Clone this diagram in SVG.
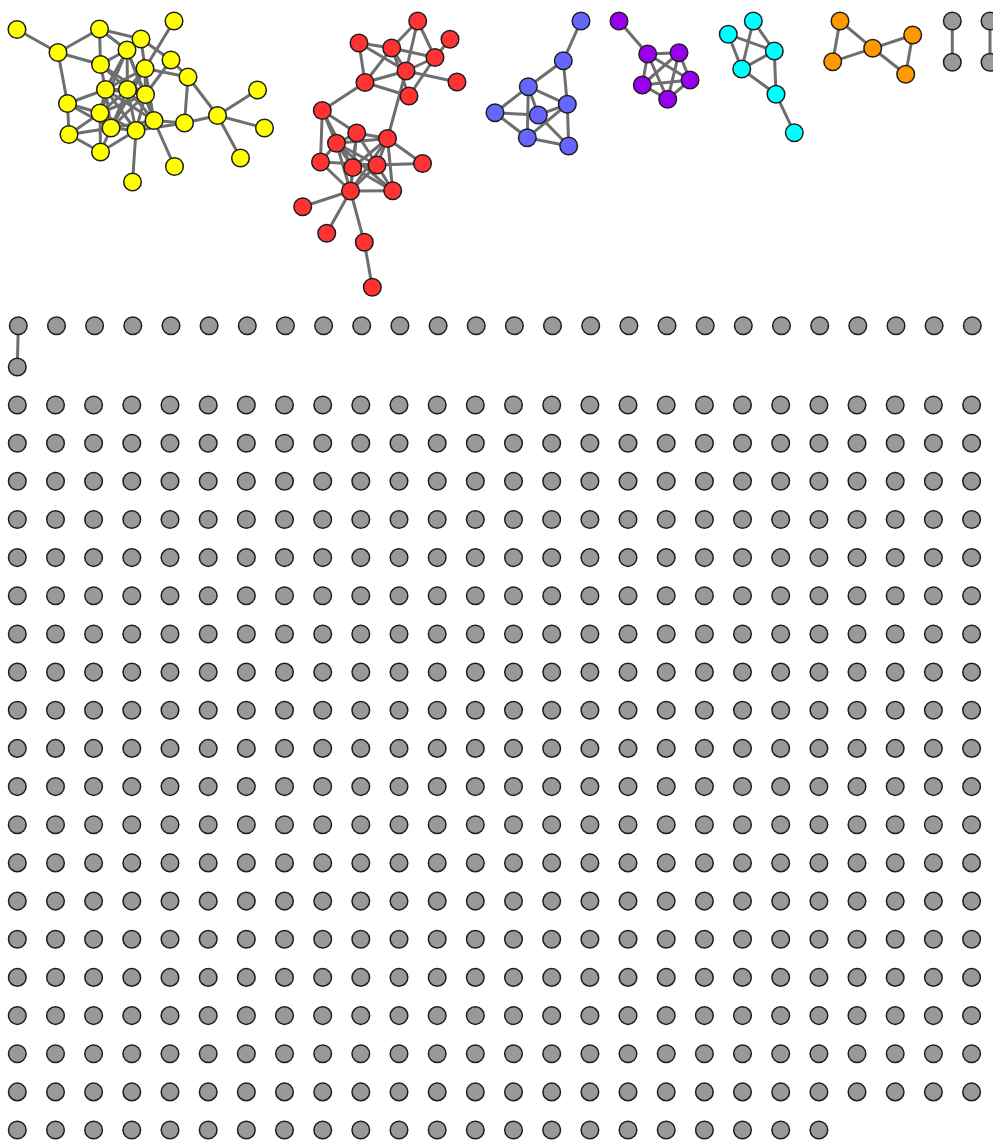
<svg xmlns="http://www.w3.org/2000/svg" width="993" height="1140" viewBox="0 0 993 1140">
<style>
.e line{stroke:#6e6e6e;stroke-width:3;stroke-linecap:round}
circle{stroke:#1e1e1e;stroke-width:1.5}
.y circle{fill:#ffff00}.r circle{fill:#ff3333}.b circle{fill:#6666ff}.p circle{fill:#9900ee}.c circle{fill:#00ffff}.o circle{fill:#ff9900}.g circle{fill:#999999}
</style>
<rect width="993" height="1140" fill="#fff"/>
<g id="connectors" class="e">
<!-- yellow -->
<line x1="17" y1="29.5" x2="58" y2="52.5"/><line x1="58" y1="52.5" x2="99.5" y2="29"/><line x1="58" y1="52.5" x2="100.5" y2="64.5"/><line x1="58" y1="52.5" x2="67.5" y2="103.5"/>
<line x1="99.5" y1="29" x2="100.5" y2="64.5"/><line x1="99.5" y1="29" x2="141" y2="39"/><line x1="99.5" y1="29" x2="127" y2="50"/>
<line x1="141" y1="39" x2="145" y2="68.5"/><line x1="141" y1="39" x2="171" y2="60"/><line x1="171" y1="60" x2="188" y2="77"/>
<line x1="127" y1="50" x2="100.5" y2="64.5"/><line x1="127" y1="50" x2="105.5" y2="89.5"/><line x1="127" y1="50" x2="127.5" y2="89.5"/><line x1="127" y1="50" x2="145.5" y2="94.5"/><line x1="127" y1="50" x2="100" y2="113"/><line x1="127" y1="50" x2="154" y2="120.5"/>
<line x1="174" y1="21" x2="145" y2="68.5"/>
<line x1="100.5" y1="64.5" x2="105.5" y2="89.5"/><line x1="100.5" y1="64.5" x2="127.5" y2="89.5"/><line x1="100.5" y1="64.5" x2="145.5" y2="94.5"/>
<line x1="145" y1="68.5" x2="105.5" y2="89.5"/><line x1="145" y1="68.5" x2="127.5" y2="89.5"/><line x1="145" y1="68.5" x2="145.5" y2="94.5"/><line x1="145" y1="68.5" x2="154" y2="120.5"/><line x1="145" y1="68.5" x2="111" y2="128"/><line x1="145" y1="68.5" x2="188" y2="77"/>
<line x1="171" y1="60" x2="145.5" y2="94.5"/>
<line x1="188" y1="77" x2="217.5" y2="115.5"/><line x1="188" y1="77" x2="184.5" y2="123"/>
<line x1="105.5" y1="89.5" x2="127.5" y2="89.5"/><line x1="105.5" y1="89.5" x2="145.5" y2="94.5"/><line x1="105.5" y1="89.5" x2="67.5" y2="103.5"/><line x1="105.5" y1="89.5" x2="100" y2="113"/><line x1="105.5" y1="89.5" x2="111" y2="128"/><line x1="105.5" y1="89.5" x2="136" y2="130.5"/><line x1="105.5" y1="89.5" x2="154" y2="120.5"/>
<line x1="127.5" y1="89.5" x2="145.5" y2="94.5"/><line x1="127.5" y1="89.5" x2="100" y2="113"/><line x1="127.5" y1="89.5" x2="111" y2="128"/><line x1="127.5" y1="89.5" x2="136" y2="130.5"/><line x1="127.5" y1="89.5" x2="154" y2="120.5"/>
<line x1="145.5" y1="94.5" x2="100" y2="113"/><line x1="145.5" y1="94.5" x2="154" y2="120.5"/><line x1="145.5" y1="94.5" x2="111" y2="128"/><line x1="145.5" y1="94.5" x2="136" y2="130.5"/>
<line x1="67.5" y1="103.5" x2="100" y2="113"/><line x1="67.5" y1="103.5" x2="69" y2="134.5"/><line x1="67.5" y1="103.5" x2="111" y2="128"/>
<line x1="100" y1="113" x2="111" y2="128"/><line x1="100" y1="113" x2="136" y2="130.5"/><line x1="100" y1="113" x2="69" y2="134.5"/><line x1="100" y1="113" x2="100.5" y2="152"/>
<line x1="154" y1="120.5" x2="111" y2="128"/><line x1="154" y1="120.5" x2="136" y2="130.5"/><line x1="154" y1="120.5" x2="184.5" y2="123"/><line x1="154" y1="120.5" x2="174.5" y2="166.5"/>
<line x1="111" y1="128" x2="136" y2="130.5"/><line x1="111" y1="128" x2="69" y2="134.5"/><line x1="111" y1="128" x2="100.5" y2="152"/>
<line x1="136" y1="130.5" x2="100.5" y2="152"/><line x1="136" y1="130.5" x2="132.5" y2="182"/><line x1="136" y1="130.5" x2="184.5" y2="123"/>
<line x1="69" y1="134.5" x2="100.5" y2="152"/>
<line x1="217.5" y1="115.5" x2="184.5" y2="123"/><line x1="217.5" y1="115.5" x2="257.5" y2="90"/><line x1="217.5" y1="115.5" x2="264.5" y2="128"/><line x1="217.5" y1="115.5" x2="240.5" y2="158"/>
<!-- red -->
<line x1="359" y1="43" x2="391.7" y2="48"/><line x1="359" y1="43" x2="365" y2="82.5"/><line x1="359" y1="43" x2="406" y2="71"/>
<line x1="391.7" y1="48" x2="417.7" y2="21"/><line x1="391.7" y1="48" x2="435" y2="57.5"/><line x1="391.7" y1="48" x2="406" y2="71"/><line x1="391.7" y1="48" x2="409" y2="96"/>
<line x1="417.7" y1="21" x2="406" y2="71"/><line x1="417.7" y1="21" x2="435" y2="57.5"/>
<line x1="365" y1="82.5" x2="391.7" y2="48"/><line x1="365" y1="82.5" x2="406" y2="71"/><line x1="365" y1="82.5" x2="409" y2="96"/>
<line x1="406" y1="71" x2="457" y2="82"/><line x1="450" y1="39.3" x2="435" y2="57.5"/><line x1="435" y1="57.5" x2="406" y2="71"/><line x1="435" y1="57.5" x2="409" y2="96"/><line x1="406" y1="71" x2="387.5" y2="138.5"/>
<line x1="365" y1="82.5" x2="322.3" y2="110.5"/>
<line x1="322.3" y1="110.5" x2="320.5" y2="162"/><line x1="322.3" y1="110.5" x2="356.7" y2="133"/><line x1="322.3" y1="110.5" x2="336.5" y2="143.3"/><line x1="322.3" y1="110.5" x2="352.7" y2="167.5"/>
<line x1="356.7" y1="133" x2="336.5" y2="143.3"/><line x1="356.7" y1="133" x2="387.5" y2="138.5"/><line x1="356.7" y1="133" x2="352.7" y2="167.5"/><line x1="356.7" y1="133" x2="377" y2="165"/><line x1="356.7" y1="133" x2="350.5" y2="191"/>
<line x1="336.5" y1="143.3" x2="387.5" y2="138.5"/><line x1="336.5" y1="143.3" x2="320.5" y2="162"/><line x1="336.5" y1="143.3" x2="352.7" y2="167.5"/><line x1="336.5" y1="143.3" x2="350.5" y2="191"/><line x1="336.5" y1="143.3" x2="392.7" y2="190.7"/><line x1="336.5" y1="143.3" x2="377" y2="165"/>
<line x1="387.5" y1="138.5" x2="422.5" y2="163.5"/><line x1="387.5" y1="138.5" x2="377" y2="165"/><line x1="387.5" y1="138.5" x2="392.7" y2="190.7"/><line x1="387.5" y1="138.5" x2="352.7" y2="167.5"/><line x1="387.5" y1="138.5" x2="350.5" y2="191"/>
<line x1="320.5" y1="162" x2="377" y2="165"/><line x1="320.5" y1="162" x2="350.5" y2="191"/>
<line x1="377" y1="165" x2="422.5" y2="163.5"/><line x1="377" y1="165" x2="350.5" y2="191"/><line x1="377" y1="165" x2="392.7" y2="190.7"/><line x1="352.7" y1="167.5" x2="350.5" y2="191"/><line x1="352.7" y1="167.5" x2="392.7" y2="190.7"/>
<line x1="350.5" y1="191" x2="392.7" y2="190.7"/><line x1="350.5" y1="191" x2="302.7" y2="206.7"/><line x1="350.5" y1="191" x2="326.7" y2="233.3"/><line x1="350.5" y1="191" x2="364.3" y2="242.3"/><line x1="364.3" y1="242.3" x2="372.3" y2="287.3"/>
<!-- blue -->
<line x1="581" y1="21" x2="563.3" y2="60.7"/><line x1="563.3" y1="60.7" x2="528.3" y2="86.7"/><line x1="563.3" y1="60.7" x2="567.3" y2="104.3"/>
<line x1="528.3" y1="86.7" x2="495" y2="112.7"/><line x1="528.3" y1="86.7" x2="538.3" y2="115"/><line x1="528.3" y1="86.7" x2="527.3" y2="137.7"/><line x1="528.3" y1="86.7" x2="567.3" y2="104.3"/>
<line x1="567.3" y1="104.3" x2="538.3" y2="115"/><line x1="567.3" y1="104.3" x2="527.3" y2="137.7"/><line x1="567.3" y1="104.3" x2="568.7" y2="146"/>
<line x1="495" y1="112.7" x2="538.3" y2="115"/><line x1="495" y1="112.7" x2="527.3" y2="137.7"/><line x1="538.3" y1="115" x2="568.7" y2="146"/><line x1="527.3" y1="137.7" x2="568.7" y2="146"/>
<!-- purple -->
<line x1="619" y1="21" x2="647.7" y2="54"/>
<line x1="647.7" y1="54" x2="679" y2="52.7"/><line x1="679" y1="52.7" x2="690" y2="80"/><line x1="690" y1="80" x2="667.7" y2="99.3"/><line x1="667.7" y1="99.3" x2="642.3" y2="85"/><line x1="642.3" y1="85" x2="647.7" y2="54"/>
<line x1="647.7" y1="54" x2="690" y2="80"/><line x1="647.7" y1="54" x2="667.7" y2="99.3"/><line x1="679" y1="52.7" x2="642.3" y2="85"/><line x1="679" y1="52.7" x2="667.7" y2="99.3"/><line x1="642.3" y1="85" x2="690" y2="80"/>
<!-- cyan -->
<line x1="728.3" y1="34.3" x2="774.3" y2="51"/><line x1="728.3" y1="34.3" x2="741.7" y2="69"/><line x1="753.3" y1="21" x2="741.7" y2="69"/><line x1="753.3" y1="21" x2="774.3" y2="51"/>
<line x1="774.3" y1="51" x2="741.7" y2="69"/><line x1="774.3" y1="51" x2="776" y2="94.3"/><line x1="741.7" y1="69" x2="776" y2="94.3"/><line x1="776" y1="94.3" x2="794.3" y2="132.7"/>
<!-- orange -->
<line x1="840" y1="21" x2="832.7" y2="61.7"/><line x1="840" y1="21" x2="872.7" y2="48.3"/><line x1="832.7" y1="61.7" x2="872.7" y2="48.3"/><line x1="872.7" y1="48.3" x2="912.7" y2="35"/><line x1="872.7" y1="48.3" x2="905.7" y2="74.3"/><line x1="912.7" y1="35" x2="905.7" y2="74.3"/>
<!-- gray pairs -->
<line x1="952.3" y1="21" x2="952.3" y2="62.3"/><line x1="990" y1="21" x2="990" y2="62.3"/><line x1="18.3" y1="325.7" x2="17.3" y2="367"/>
</g>
<g class="y">
<g id="y1"><circle cx="17" cy="29.5" r="8.8"/></g><g id="y2"><circle cx="58" cy="52.5" r="8.8"/></g><g id="y3"><circle cx="99.5" cy="29" r="8.8"/></g><g id="y4"><circle cx="141" cy="39" r="8.8"/></g><g id="y5"><circle cx="127" cy="50" r="8.8"/></g><g id="y6"><circle cx="174" cy="21" r="8.8"/></g><g id="y7"><circle cx="100.5" cy="64.5" r="8.8"/></g><g id="y8"><circle cx="145" cy="68.5" r="8.8"/></g><g id="y9"><circle cx="171" cy="60" r="8.8"/></g><g id="y10"><circle cx="188" cy="77" r="8.8"/></g><g id="y11"><circle cx="105.5" cy="89.5" r="8.8"/></g><g id="y12"><circle cx="127.5" cy="89.5" r="8.8"/></g><g id="y13"><circle cx="145.5" cy="94.5" r="8.8"/></g><g id="y14"><circle cx="67.5" cy="103.5" r="8.8"/></g><g id="y15"><circle cx="100" cy="113" r="8.8"/></g><g id="y16"><circle cx="257.5" cy="90" r="8.8"/></g><g id="y17"><circle cx="217.5" cy="115.5" r="8.8"/></g><g id="y18"><circle cx="184.5" cy="123" r="8.8"/></g><g id="y19"><circle cx="154" cy="120.5" r="8.8"/></g><g id="y20"><circle cx="111" cy="128" r="8.8"/></g><g id="y21"><circle cx="136" cy="130.5" r="8.8"/></g><g id="y22"><circle cx="69" cy="134.5" r="8.8"/></g><g id="y23"><circle cx="264.5" cy="128" r="8.8"/></g><g id="y24"><circle cx="100.5" cy="152" r="8.8"/></g><g id="y25"><circle cx="240.5" cy="158" r="8.8"/></g><g id="y26"><circle cx="174.5" cy="166.5" r="8.8"/></g><g id="y27"><circle cx="132.5" cy="182" r="8.8"/></g>
</g>
<g class="r">
<g id="r1"><circle cx="417.7" cy="21" r="8.8"/></g><g id="r2"><circle cx="359" cy="43" r="8.8"/></g><g id="r3"><circle cx="391.7" cy="48" r="8.8"/></g><g id="r4"><circle cx="450" cy="39.3" r="8.8"/></g><g id="r5"><circle cx="435" cy="57.5" r="8.8"/></g><g id="r6"><circle cx="406" cy="71" r="8.8"/></g><g id="r7"><circle cx="365" cy="82.5" r="8.8"/></g><g id="r8"><circle cx="457" cy="82" r="8.8"/></g><g id="r9"><circle cx="409" cy="96" r="8.8"/></g><g id="r10"><circle cx="322.3" cy="110.5" r="8.8"/></g><g id="r11"><circle cx="356.7" cy="133" r="8.8"/></g><g id="r12"><circle cx="336.5" cy="143.3" r="8.8"/></g><g id="r13"><circle cx="387.5" cy="138.5" r="8.8"/></g><g id="r14"><circle cx="320.5" cy="162" r="8.8"/></g><g id="r15"><circle cx="352.7" cy="167.5" r="8.8"/></g><g id="r16"><circle cx="377" cy="165" r="8.8"/></g><g id="r17"><circle cx="422.5" cy="163.5" r="8.8"/></g><g id="r18"><circle cx="350.5" cy="191" r="8.8"/></g><g id="r19"><circle cx="392.7" cy="190.7" r="8.8"/></g><g id="r20"><circle cx="302.7" cy="206.7" r="8.8"/></g><g id="r21"><circle cx="326.7" cy="233.3" r="8.8"/></g><g id="r22"><circle cx="364.3" cy="242.3" r="8.8"/></g><g id="r23"><circle cx="372.3" cy="287.3" r="8.8"/></g>
</g>
<g class="b">
<g id="b1"><circle cx="581" cy="21" r="8.8"/></g><g id="b2"><circle cx="563.3" cy="60.7" r="8.8"/></g><g id="b3"><circle cx="528.3" cy="86.7" r="8.8"/></g><g id="b4"><circle cx="567.3" cy="104.3" r="8.8"/></g><g id="b5"><circle cx="495" cy="112.7" r="8.8"/></g><g id="b6"><circle cx="538.3" cy="115" r="8.8"/></g><g id="b7"><circle cx="527.3" cy="137.7" r="8.8"/></g><g id="b8"><circle cx="568.7" cy="146" r="8.8"/></g>
</g>
<g class="p">
<g id="p1"><circle cx="619" cy="21" r="8.8"/></g><g id="p2"><circle cx="647.7" cy="54" r="8.8"/></g><g id="p3"><circle cx="679" cy="52.7" r="8.8"/></g><g id="p4"><circle cx="690" cy="80" r="8.8"/></g><g id="p5"><circle cx="667.7" cy="99.3" r="8.8"/></g><g id="p6"><circle cx="642.3" cy="85" r="8.8"/></g>
</g>
<g class="c">
<g id="c1"><circle cx="753.3" cy="21" r="8.8"/></g><g id="c2"><circle cx="728.3" cy="34.3" r="8.8"/></g><g id="c3"><circle cx="774.3" cy="51" r="8.8"/></g><g id="c4"><circle cx="741.7" cy="69" r="8.8"/></g><g id="c5"><circle cx="776" cy="94.3" r="8.8"/></g><g id="c6"><circle cx="794.3" cy="132.7" r="8.8"/></g>
</g>
<g class="o">
<g id="o1"><circle cx="840" cy="21" r="8.8"/></g><g id="o2"><circle cx="832.7" cy="61.7" r="8.8"/></g><g id="o3"><circle cx="872.7" cy="48.3" r="8.8"/></g><g id="o4"><circle cx="912.7" cy="35" r="8.8"/></g><g id="o5"><circle cx="905.7" cy="74.3" r="8.8"/></g>
</g>
<g class="g">
<g id="ga1"><circle cx="952.3" cy="21" r="8.8"/></g><g id="ga2"><circle cx="952.3" cy="62.3" r="8.8"/></g><g id="gb1"><circle cx="990" cy="21" r="8.8"/></g><g id="gb2"><circle cx="990" cy="62.3" r="8.8"/></g>
<g id="gc1"><circle cx="18.3" cy="325.7" r="8.8"/></g><g id="gc2"><circle cx="17.3" cy="367" r="8.8"/></g>
<g id="t1"><circle cx="56.5" cy="325.7" r="8.8"/></g><g id="t2"><circle cx="94.6" cy="325.7" r="8.8"/></g><g id="t3"><circle cx="132.8" cy="325.7" r="8.8"/></g><g id="t4"><circle cx="171" cy="325.7" r="8.8"/></g><g id="t5"><circle cx="209.1" cy="325.7" r="8.8"/></g><g id="t6"><circle cx="247.3" cy="325.7" r="8.8"/></g><g id="t7"><circle cx="285.4" cy="325.7" r="8.8"/></g><g id="t8"><circle cx="323.6" cy="325.7" r="8.8"/></g><g id="t9"><circle cx="361.7" cy="325.7" r="8.8"/></g><g id="t10"><circle cx="399.9" cy="325.7" r="8.8"/></g><g id="t11"><circle cx="438.1" cy="325.7" r="8.8"/></g><g id="t12"><circle cx="476.2" cy="325.7" r="8.8"/></g><g id="t13"><circle cx="514.4" cy="325.7" r="8.8"/></g><g id="t14"><circle cx="552.5" cy="325.7" r="8.8"/></g><g id="t15"><circle cx="590.7" cy="325.7" r="8.8"/></g><g id="t16"><circle cx="628.9" cy="325.7" r="8.8"/></g><g id="t17"><circle cx="667" cy="325.7" r="8.8"/></g><g id="t18"><circle cx="705.2" cy="325.7" r="8.8"/></g><g id="t19"><circle cx="743.3" cy="325.7" r="8.8"/></g><g id="t20"><circle cx="781.5" cy="325.7" r="8.8"/></g><g id="t21"><circle cx="819.7" cy="325.7" r="8.8"/></g><g id="t22"><circle cx="857.8" cy="325.7" r="8.8"/></g><g id="t23"><circle cx="896" cy="325.7" r="8.8"/></g><g id="t24"><circle cx="934.1" cy="325.7" r="8.8"/></g><g id="t25"><circle cx="972.3" cy="325.7" r="8.8"/></g>
</g>
<defs><circle id="n" r="8.8"/></defs>
<g class="g" id="grid">
<g id="row0" transform="translate(0,405)"><g id="n0-0"><circle cx="17.3" r="8.8"/></g><g id="n0-1"><circle cx="55.5" r="8.8"/></g><g id="n0-2"><circle cx="93.6" r="8.8"/></g><g id="n0-3"><circle cx="131.8" r="8.8"/></g><g id="n0-4"><circle cx="170" r="8.8"/></g><g id="n0-5"><circle cx="208.2" r="8.8"/></g><g id="n0-6"><circle cx="246.3" r="8.8"/></g><g id="n0-7"><circle cx="284.5" r="8.8"/></g><g id="n0-8"><circle cx="322.7" r="8.8"/></g><g id="n0-9"><circle cx="360.8" r="8.8"/></g><g id="n0-10"><circle cx="399" r="8.8"/></g><g id="n0-11"><circle cx="437.2" r="8.8"/></g><g id="n0-12"><circle cx="475.3" r="8.8"/></g><g id="n0-13"><circle cx="513.5" r="8.8"/></g><g id="n0-14"><circle cx="551.7" r="8.8"/></g><g id="n0-15"><circle cx="589.9" r="8.8"/></g><g id="n0-16"><circle cx="628" r="8.8"/></g><g id="n0-17"><circle cx="666.2" r="8.8"/></g><g id="n0-18"><circle cx="704.4" r="8.8"/></g><g id="n0-19"><circle cx="742.5" r="8.8"/></g><g id="n0-20"><circle cx="780.7" r="8.8"/></g><g id="n0-21"><circle cx="818.9" r="8.8"/></g><g id="n0-22"><circle cx="857" r="8.8"/></g><g id="n0-23"><circle cx="895.2" r="8.8"/></g><g id="n0-24"><circle cx="933.4" r="8.8"/></g><g id="n0-25"><circle cx="971.6" r="8.8"/></g></g>
<g id="row1" transform="translate(0,443.2)"><g id="n1-0"><circle cx="17.3" r="8.8"/></g><g id="n1-1"><circle cx="55.5" r="8.8"/></g><g id="n1-2"><circle cx="93.6" r="8.8"/></g><g id="n1-3"><circle cx="131.8" r="8.8"/></g><g id="n1-4"><circle cx="170" r="8.8"/></g><g id="n1-5"><circle cx="208.2" r="8.8"/></g><g id="n1-6"><circle cx="246.3" r="8.8"/></g><g id="n1-7"><circle cx="284.5" r="8.8"/></g><g id="n1-8"><circle cx="322.7" r="8.8"/></g><g id="n1-9"><circle cx="360.8" r="8.8"/></g><g id="n1-10"><circle cx="399" r="8.8"/></g><g id="n1-11"><circle cx="437.2" r="8.8"/></g><g id="n1-12"><circle cx="475.3" r="8.8"/></g><g id="n1-13"><circle cx="513.5" r="8.8"/></g><g id="n1-14"><circle cx="551.7" r="8.8"/></g><g id="n1-15"><circle cx="589.9" r="8.8"/></g><g id="n1-16"><circle cx="628" r="8.8"/></g><g id="n1-17"><circle cx="666.2" r="8.8"/></g><g id="n1-18"><circle cx="704.4" r="8.8"/></g><g id="n1-19"><circle cx="742.5" r="8.8"/></g><g id="n1-20"><circle cx="780.7" r="8.8"/></g><g id="n1-21"><circle cx="818.9" r="8.8"/></g><g id="n1-22"><circle cx="857" r="8.8"/></g><g id="n1-23"><circle cx="895.2" r="8.8"/></g><g id="n1-24"><circle cx="933.4" r="8.8"/></g><g id="n1-25"><circle cx="971.6" r="8.8"/></g></g>
<g id="row2" transform="translate(0,481.3)"><g id="n2-0"><circle cx="17.3" r="8.8"/></g><g id="n2-1"><circle cx="55.5" r="8.8"/></g><g id="n2-2"><circle cx="93.6" r="8.8"/></g><g id="n2-3"><circle cx="131.8" r="8.8"/></g><g id="n2-4"><circle cx="170" r="8.8"/></g><g id="n2-5"><circle cx="208.2" r="8.8"/></g><g id="n2-6"><circle cx="246.3" r="8.8"/></g><g id="n2-7"><circle cx="284.5" r="8.8"/></g><g id="n2-8"><circle cx="322.7" r="8.8"/></g><g id="n2-9"><circle cx="360.8" r="8.8"/></g><g id="n2-10"><circle cx="399" r="8.8"/></g><g id="n2-11"><circle cx="437.2" r="8.8"/></g><g id="n2-12"><circle cx="475.3" r="8.8"/></g><g id="n2-13"><circle cx="513.5" r="8.8"/></g><g id="n2-14"><circle cx="551.7" r="8.8"/></g><g id="n2-15"><circle cx="589.9" r="8.8"/></g><g id="n2-16"><circle cx="628" r="8.8"/></g><g id="n2-17"><circle cx="666.2" r="8.8"/></g><g id="n2-18"><circle cx="704.4" r="8.8"/></g><g id="n2-19"><circle cx="742.5" r="8.8"/></g><g id="n2-20"><circle cx="780.7" r="8.8"/></g><g id="n2-21"><circle cx="818.9" r="8.8"/></g><g id="n2-22"><circle cx="857" r="8.8"/></g><g id="n2-23"><circle cx="895.2" r="8.8"/></g><g id="n2-24"><circle cx="933.4" r="8.8"/></g><g id="n2-25"><circle cx="971.6" r="8.8"/></g></g>
<g id="row3" transform="translate(0,519.5)"><g id="n3-0"><circle cx="17.3" r="8.8"/></g><g id="n3-1"><circle cx="55.5" r="8.8"/></g><g id="n3-2"><circle cx="93.6" r="8.8"/></g><g id="n3-3"><circle cx="131.8" r="8.8"/></g><g id="n3-4"><circle cx="170" r="8.8"/></g><g id="n3-5"><circle cx="208.2" r="8.8"/></g><g id="n3-6"><circle cx="246.3" r="8.8"/></g><g id="n3-7"><circle cx="284.5" r="8.8"/></g><g id="n3-8"><circle cx="322.7" r="8.8"/></g><g id="n3-9"><circle cx="360.8" r="8.8"/></g><g id="n3-10"><circle cx="399" r="8.8"/></g><g id="n3-11"><circle cx="437.2" r="8.8"/></g><g id="n3-12"><circle cx="475.3" r="8.8"/></g><g id="n3-13"><circle cx="513.5" r="8.8"/></g><g id="n3-14"><circle cx="551.7" r="8.8"/></g><g id="n3-15"><circle cx="589.9" r="8.8"/></g><g id="n3-16"><circle cx="628" r="8.8"/></g><g id="n3-17"><circle cx="666.2" r="8.8"/></g><g id="n3-18"><circle cx="704.4" r="8.8"/></g><g id="n3-19"><circle cx="742.5" r="8.8"/></g><g id="n3-20"><circle cx="780.7" r="8.8"/></g><g id="n3-21"><circle cx="818.9" r="8.8"/></g><g id="n3-22"><circle cx="857" r="8.8"/></g><g id="n3-23"><circle cx="895.2" r="8.8"/></g><g id="n3-24"><circle cx="933.4" r="8.8"/></g><g id="n3-25"><circle cx="971.6" r="8.8"/></g></g>
<g id="row4" transform="translate(0,557.6)"><g id="n4-0"><circle cx="17.3" r="8.8"/></g><g id="n4-1"><circle cx="55.5" r="8.8"/></g><g id="n4-2"><circle cx="93.6" r="8.8"/></g><g id="n4-3"><circle cx="131.8" r="8.8"/></g><g id="n4-4"><circle cx="170" r="8.8"/></g><g id="n4-5"><circle cx="208.2" r="8.8"/></g><g id="n4-6"><circle cx="246.3" r="8.8"/></g><g id="n4-7"><circle cx="284.5" r="8.8"/></g><g id="n4-8"><circle cx="322.7" r="8.8"/></g><g id="n4-9"><circle cx="360.8" r="8.8"/></g><g id="n4-10"><circle cx="399" r="8.8"/></g><g id="n4-11"><circle cx="437.2" r="8.8"/></g><g id="n4-12"><circle cx="475.3" r="8.8"/></g><g id="n4-13"><circle cx="513.5" r="8.8"/></g><g id="n4-14"><circle cx="551.7" r="8.8"/></g><g id="n4-15"><circle cx="589.9" r="8.8"/></g><g id="n4-16"><circle cx="628" r="8.8"/></g><g id="n4-17"><circle cx="666.2" r="8.8"/></g><g id="n4-18"><circle cx="704.4" r="8.8"/></g><g id="n4-19"><circle cx="742.5" r="8.8"/></g><g id="n4-20"><circle cx="780.7" r="8.8"/></g><g id="n4-21"><circle cx="818.9" r="8.8"/></g><g id="n4-22"><circle cx="857" r="8.8"/></g><g id="n4-23"><circle cx="895.2" r="8.8"/></g><g id="n4-24"><circle cx="933.4" r="8.8"/></g><g id="n4-25"><circle cx="971.6" r="8.8"/></g></g>
<g id="row5" transform="translate(0,595.8)"><g id="n5-0"><circle cx="17.3" r="8.8"/></g><g id="n5-1"><circle cx="55.5" r="8.8"/></g><g id="n5-2"><circle cx="93.6" r="8.8"/></g><g id="n5-3"><circle cx="131.8" r="8.8"/></g><g id="n5-4"><circle cx="170" r="8.8"/></g><g id="n5-5"><circle cx="208.2" r="8.8"/></g><g id="n5-6"><circle cx="246.3" r="8.8"/></g><g id="n5-7"><circle cx="284.5" r="8.8"/></g><g id="n5-8"><circle cx="322.7" r="8.8"/></g><g id="n5-9"><circle cx="360.8" r="8.8"/></g><g id="n5-10"><circle cx="399" r="8.8"/></g><g id="n5-11"><circle cx="437.2" r="8.8"/></g><g id="n5-12"><circle cx="475.3" r="8.8"/></g><g id="n5-13"><circle cx="513.5" r="8.8"/></g><g id="n5-14"><circle cx="551.7" r="8.8"/></g><g id="n5-15"><circle cx="589.9" r="8.8"/></g><g id="n5-16"><circle cx="628" r="8.8"/></g><g id="n5-17"><circle cx="666.2" r="8.8"/></g><g id="n5-18"><circle cx="704.4" r="8.8"/></g><g id="n5-19"><circle cx="742.5" r="8.8"/></g><g id="n5-20"><circle cx="780.7" r="8.8"/></g><g id="n5-21"><circle cx="818.9" r="8.8"/></g><g id="n5-22"><circle cx="857" r="8.8"/></g><g id="n5-23"><circle cx="895.2" r="8.8"/></g><g id="n5-24"><circle cx="933.4" r="8.8"/></g><g id="n5-25"><circle cx="971.6" r="8.8"/></g></g>
<g id="row6" transform="translate(0,634)"><g id="n6-0"><circle cx="17.3" r="8.8"/></g><g id="n6-1"><circle cx="55.5" r="8.8"/></g><g id="n6-2"><circle cx="93.6" r="8.8"/></g><g id="n6-3"><circle cx="131.8" r="8.8"/></g><g id="n6-4"><circle cx="170" r="8.8"/></g><g id="n6-5"><circle cx="208.2" r="8.8"/></g><g id="n6-6"><circle cx="246.3" r="8.8"/></g><g id="n6-7"><circle cx="284.5" r="8.8"/></g><g id="n6-8"><circle cx="322.7" r="8.8"/></g><g id="n6-9"><circle cx="360.8" r="8.8"/></g><g id="n6-10"><circle cx="399" r="8.8"/></g><g id="n6-11"><circle cx="437.2" r="8.8"/></g><g id="n6-12"><circle cx="475.3" r="8.8"/></g><g id="n6-13"><circle cx="513.5" r="8.8"/></g><g id="n6-14"><circle cx="551.7" r="8.8"/></g><g id="n6-15"><circle cx="589.9" r="8.8"/></g><g id="n6-16"><circle cx="628" r="8.8"/></g><g id="n6-17"><circle cx="666.2" r="8.8"/></g><g id="n6-18"><circle cx="704.4" r="8.8"/></g><g id="n6-19"><circle cx="742.5" r="8.8"/></g><g id="n6-20"><circle cx="780.7" r="8.8"/></g><g id="n6-21"><circle cx="818.9" r="8.8"/></g><g id="n6-22"><circle cx="857" r="8.8"/></g><g id="n6-23"><circle cx="895.2" r="8.8"/></g><g id="n6-24"><circle cx="933.4" r="8.8"/></g><g id="n6-25"><circle cx="971.6" r="8.8"/></g></g>
<g id="row7" transform="translate(0,672.1)"><g id="n7-0"><circle cx="17.3" r="8.8"/></g><g id="n7-1"><circle cx="55.5" r="8.8"/></g><g id="n7-2"><circle cx="93.6" r="8.8"/></g><g id="n7-3"><circle cx="131.8" r="8.8"/></g><g id="n7-4"><circle cx="170" r="8.8"/></g><g id="n7-5"><circle cx="208.2" r="8.8"/></g><g id="n7-6"><circle cx="246.3" r="8.8"/></g><g id="n7-7"><circle cx="284.5" r="8.8"/></g><g id="n7-8"><circle cx="322.7" r="8.8"/></g><g id="n7-9"><circle cx="360.8" r="8.8"/></g><g id="n7-10"><circle cx="399" r="8.8"/></g><g id="n7-11"><circle cx="437.2" r="8.8"/></g><g id="n7-12"><circle cx="475.3" r="8.8"/></g><g id="n7-13"><circle cx="513.5" r="8.8"/></g><g id="n7-14"><circle cx="551.7" r="8.8"/></g><g id="n7-15"><circle cx="589.9" r="8.8"/></g><g id="n7-16"><circle cx="628" r="8.8"/></g><g id="n7-17"><circle cx="666.2" r="8.8"/></g><g id="n7-18"><circle cx="704.4" r="8.8"/></g><g id="n7-19"><circle cx="742.5" r="8.8"/></g><g id="n7-20"><circle cx="780.7" r="8.8"/></g><g id="n7-21"><circle cx="818.9" r="8.8"/></g><g id="n7-22"><circle cx="857" r="8.8"/></g><g id="n7-23"><circle cx="895.2" r="8.8"/></g><g id="n7-24"><circle cx="933.4" r="8.8"/></g><g id="n7-25"><circle cx="971.6" r="8.8"/></g></g>
<g id="row8" transform="translate(0,710.3)"><g id="n8-0"><circle cx="17.3" r="8.8"/></g><g id="n8-1"><circle cx="55.5" r="8.8"/></g><g id="n8-2"><circle cx="93.6" r="8.8"/></g><g id="n8-3"><circle cx="131.8" r="8.8"/></g><g id="n8-4"><circle cx="170" r="8.8"/></g><g id="n8-5"><circle cx="208.2" r="8.8"/></g><g id="n8-6"><circle cx="246.3" r="8.8"/></g><g id="n8-7"><circle cx="284.5" r="8.8"/></g><g id="n8-8"><circle cx="322.7" r="8.8"/></g><g id="n8-9"><circle cx="360.8" r="8.8"/></g><g id="n8-10"><circle cx="399" r="8.8"/></g><g id="n8-11"><circle cx="437.2" r="8.8"/></g><g id="n8-12"><circle cx="475.3" r="8.8"/></g><g id="n8-13"><circle cx="513.5" r="8.8"/></g><g id="n8-14"><circle cx="551.7" r="8.8"/></g><g id="n8-15"><circle cx="589.9" r="8.8"/></g><g id="n8-16"><circle cx="628" r="8.8"/></g><g id="n8-17"><circle cx="666.2" r="8.8"/></g><g id="n8-18"><circle cx="704.4" r="8.8"/></g><g id="n8-19"><circle cx="742.5" r="8.8"/></g><g id="n8-20"><circle cx="780.7" r="8.8"/></g><g id="n8-21"><circle cx="818.9" r="8.8"/></g><g id="n8-22"><circle cx="857" r="8.8"/></g><g id="n8-23"><circle cx="895.2" r="8.8"/></g><g id="n8-24"><circle cx="933.4" r="8.8"/></g><g id="n8-25"><circle cx="971.6" r="8.8"/></g></g>
<g id="row9" transform="translate(0,748.4)"><g id="n9-0"><circle cx="17.3" r="8.8"/></g><g id="n9-1"><circle cx="55.5" r="8.8"/></g><g id="n9-2"><circle cx="93.6" r="8.8"/></g><g id="n9-3"><circle cx="131.8" r="8.8"/></g><g id="n9-4"><circle cx="170" r="8.8"/></g><g id="n9-5"><circle cx="208.2" r="8.8"/></g><g id="n9-6"><circle cx="246.3" r="8.8"/></g><g id="n9-7"><circle cx="284.5" r="8.8"/></g><g id="n9-8"><circle cx="322.7" r="8.8"/></g><g id="n9-9"><circle cx="360.8" r="8.8"/></g><g id="n9-10"><circle cx="399" r="8.8"/></g><g id="n9-11"><circle cx="437.2" r="8.8"/></g><g id="n9-12"><circle cx="475.3" r="8.8"/></g><g id="n9-13"><circle cx="513.5" r="8.8"/></g><g id="n9-14"><circle cx="551.7" r="8.8"/></g><g id="n9-15"><circle cx="589.9" r="8.8"/></g><g id="n9-16"><circle cx="628" r="8.8"/></g><g id="n9-17"><circle cx="666.2" r="8.8"/></g><g id="n9-18"><circle cx="704.4" r="8.8"/></g><g id="n9-19"><circle cx="742.5" r="8.8"/></g><g id="n9-20"><circle cx="780.7" r="8.8"/></g><g id="n9-21"><circle cx="818.9" r="8.8"/></g><g id="n9-22"><circle cx="857" r="8.8"/></g><g id="n9-23"><circle cx="895.2" r="8.8"/></g><g id="n9-24"><circle cx="933.4" r="8.8"/></g><g id="n9-25"><circle cx="971.6" r="8.8"/></g></g>
<g id="row10" transform="translate(0,786.6)"><g id="n10-0"><circle cx="17.3" r="8.8"/></g><g id="n10-1"><circle cx="55.5" r="8.8"/></g><g id="n10-2"><circle cx="93.6" r="8.8"/></g><g id="n10-3"><circle cx="131.8" r="8.8"/></g><g id="n10-4"><circle cx="170" r="8.8"/></g><g id="n10-5"><circle cx="208.2" r="8.8"/></g><g id="n10-6"><circle cx="246.3" r="8.8"/></g><g id="n10-7"><circle cx="284.5" r="8.8"/></g><g id="n10-8"><circle cx="322.7" r="8.8"/></g><g id="n10-9"><circle cx="360.8" r="8.8"/></g><g id="n10-10"><circle cx="399" r="8.8"/></g><g id="n10-11"><circle cx="437.2" r="8.8"/></g><g id="n10-12"><circle cx="475.3" r="8.8"/></g><g id="n10-13"><circle cx="513.5" r="8.8"/></g><g id="n10-14"><circle cx="551.7" r="8.8"/></g><g id="n10-15"><circle cx="589.9" r="8.8"/></g><g id="n10-16"><circle cx="628" r="8.8"/></g><g id="n10-17"><circle cx="666.2" r="8.8"/></g><g id="n10-18"><circle cx="704.4" r="8.8"/></g><g id="n10-19"><circle cx="742.5" r="8.8"/></g><g id="n10-20"><circle cx="780.7" r="8.8"/></g><g id="n10-21"><circle cx="818.9" r="8.8"/></g><g id="n10-22"><circle cx="857" r="8.8"/></g><g id="n10-23"><circle cx="895.2" r="8.8"/></g><g id="n10-24"><circle cx="933.4" r="8.8"/></g><g id="n10-25"><circle cx="971.6" r="8.8"/></g></g>
<g id="row11" transform="translate(0,824.8)"><g id="n11-0"><circle cx="17.3" r="8.8"/></g><g id="n11-1"><circle cx="55.5" r="8.8"/></g><g id="n11-2"><circle cx="93.6" r="8.8"/></g><g id="n11-3"><circle cx="131.8" r="8.8"/></g><g id="n11-4"><circle cx="170" r="8.8"/></g><g id="n11-5"><circle cx="208.2" r="8.8"/></g><g id="n11-6"><circle cx="246.3" r="8.8"/></g><g id="n11-7"><circle cx="284.5" r="8.8"/></g><g id="n11-8"><circle cx="322.7" r="8.8"/></g><g id="n11-9"><circle cx="360.8" r="8.8"/></g><g id="n11-10"><circle cx="399" r="8.8"/></g><g id="n11-11"><circle cx="437.2" r="8.8"/></g><g id="n11-12"><circle cx="475.3" r="8.8"/></g><g id="n11-13"><circle cx="513.5" r="8.8"/></g><g id="n11-14"><circle cx="551.7" r="8.8"/></g><g id="n11-15"><circle cx="589.9" r="8.8"/></g><g id="n11-16"><circle cx="628" r="8.8"/></g><g id="n11-17"><circle cx="666.2" r="8.8"/></g><g id="n11-18"><circle cx="704.4" r="8.8"/></g><g id="n11-19"><circle cx="742.5" r="8.8"/></g><g id="n11-20"><circle cx="780.7" r="8.8"/></g><g id="n11-21"><circle cx="818.9" r="8.8"/></g><g id="n11-22"><circle cx="857" r="8.8"/></g><g id="n11-23"><circle cx="895.2" r="8.8"/></g><g id="n11-24"><circle cx="933.4" r="8.8"/></g><g id="n11-25"><circle cx="971.6" r="8.8"/></g></g>
<g id="row12" transform="translate(0,862.9)"><g id="n12-0"><circle cx="17.3" r="8.8"/></g><g id="n12-1"><circle cx="55.5" r="8.8"/></g><g id="n12-2"><circle cx="93.6" r="8.8"/></g><g id="n12-3"><circle cx="131.8" r="8.8"/></g><g id="n12-4"><circle cx="170" r="8.8"/></g><g id="n12-5"><circle cx="208.2" r="8.8"/></g><g id="n12-6"><circle cx="246.3" r="8.8"/></g><g id="n12-7"><circle cx="284.5" r="8.8"/></g><g id="n12-8"><circle cx="322.7" r="8.8"/></g><g id="n12-9"><circle cx="360.8" r="8.8"/></g><g id="n12-10"><circle cx="399" r="8.8"/></g><g id="n12-11"><circle cx="437.2" r="8.8"/></g><g id="n12-12"><circle cx="475.3" r="8.8"/></g><g id="n12-13"><circle cx="513.5" r="8.8"/></g><g id="n12-14"><circle cx="551.7" r="8.8"/></g><g id="n12-15"><circle cx="589.9" r="8.8"/></g><g id="n12-16"><circle cx="628" r="8.8"/></g><g id="n12-17"><circle cx="666.2" r="8.8"/></g><g id="n12-18"><circle cx="704.4" r="8.8"/></g><g id="n12-19"><circle cx="742.5" r="8.8"/></g><g id="n12-20"><circle cx="780.7" r="8.8"/></g><g id="n12-21"><circle cx="818.9" r="8.8"/></g><g id="n12-22"><circle cx="857" r="8.8"/></g><g id="n12-23"><circle cx="895.2" r="8.8"/></g><g id="n12-24"><circle cx="933.4" r="8.8"/></g><g id="n12-25"><circle cx="971.6" r="8.8"/></g></g>
<g id="row13" transform="translate(0,901.1)"><g id="n13-0"><circle cx="17.3" r="8.8"/></g><g id="n13-1"><circle cx="55.5" r="8.8"/></g><g id="n13-2"><circle cx="93.6" r="8.8"/></g><g id="n13-3"><circle cx="131.8" r="8.8"/></g><g id="n13-4"><circle cx="170" r="8.8"/></g><g id="n13-5"><circle cx="208.2" r="8.8"/></g><g id="n13-6"><circle cx="246.3" r="8.8"/></g><g id="n13-7"><circle cx="284.5" r="8.8"/></g><g id="n13-8"><circle cx="322.7" r="8.8"/></g><g id="n13-9"><circle cx="360.8" r="8.8"/></g><g id="n13-10"><circle cx="399" r="8.8"/></g><g id="n13-11"><circle cx="437.2" r="8.8"/></g><g id="n13-12"><circle cx="475.3" r="8.8"/></g><g id="n13-13"><circle cx="513.5" r="8.8"/></g><g id="n13-14"><circle cx="551.7" r="8.8"/></g><g id="n13-15"><circle cx="589.9" r="8.8"/></g><g id="n13-16"><circle cx="628" r="8.8"/></g><g id="n13-17"><circle cx="666.2" r="8.8"/></g><g id="n13-18"><circle cx="704.4" r="8.8"/></g><g id="n13-19"><circle cx="742.5" r="8.8"/></g><g id="n13-20"><circle cx="780.7" r="8.8"/></g><g id="n13-21"><circle cx="818.9" r="8.8"/></g><g id="n13-22"><circle cx="857" r="8.8"/></g><g id="n13-23"><circle cx="895.2" r="8.8"/></g><g id="n13-24"><circle cx="933.4" r="8.8"/></g><g id="n13-25"><circle cx="971.6" r="8.8"/></g></g>
<g id="row14" transform="translate(0,939.2)"><g id="n14-0"><circle cx="17.3" r="8.8"/></g><g id="n14-1"><circle cx="55.5" r="8.8"/></g><g id="n14-2"><circle cx="93.6" r="8.8"/></g><g id="n14-3"><circle cx="131.8" r="8.8"/></g><g id="n14-4"><circle cx="170" r="8.8"/></g><g id="n14-5"><circle cx="208.2" r="8.8"/></g><g id="n14-6"><circle cx="246.3" r="8.8"/></g><g id="n14-7"><circle cx="284.5" r="8.8"/></g><g id="n14-8"><circle cx="322.7" r="8.8"/></g><g id="n14-9"><circle cx="360.8" r="8.8"/></g><g id="n14-10"><circle cx="399" r="8.8"/></g><g id="n14-11"><circle cx="437.2" r="8.8"/></g><g id="n14-12"><circle cx="475.3" r="8.8"/></g><g id="n14-13"><circle cx="513.5" r="8.8"/></g><g id="n14-14"><circle cx="551.7" r="8.8"/></g><g id="n14-15"><circle cx="589.9" r="8.8"/></g><g id="n14-16"><circle cx="628" r="8.8"/></g><g id="n14-17"><circle cx="666.2" r="8.8"/></g><g id="n14-18"><circle cx="704.4" r="8.8"/></g><g id="n14-19"><circle cx="742.5" r="8.8"/></g><g id="n14-20"><circle cx="780.7" r="8.8"/></g><g id="n14-21"><circle cx="818.9" r="8.8"/></g><g id="n14-22"><circle cx="857" r="8.8"/></g><g id="n14-23"><circle cx="895.2" r="8.8"/></g><g id="n14-24"><circle cx="933.4" r="8.8"/></g><g id="n14-25"><circle cx="971.6" r="8.8"/></g></g>
<g id="row15" transform="translate(0,977.4)"><g id="n15-0"><circle cx="17.3" r="8.8"/></g><g id="n15-1"><circle cx="55.5" r="8.8"/></g><g id="n15-2"><circle cx="93.6" r="8.8"/></g><g id="n15-3"><circle cx="131.8" r="8.8"/></g><g id="n15-4"><circle cx="170" r="8.8"/></g><g id="n15-5"><circle cx="208.2" r="8.8"/></g><g id="n15-6"><circle cx="246.3" r="8.8"/></g><g id="n15-7"><circle cx="284.5" r="8.8"/></g><g id="n15-8"><circle cx="322.7" r="8.8"/></g><g id="n15-9"><circle cx="360.8" r="8.8"/></g><g id="n15-10"><circle cx="399" r="8.8"/></g><g id="n15-11"><circle cx="437.2" r="8.8"/></g><g id="n15-12"><circle cx="475.3" r="8.8"/></g><g id="n15-13"><circle cx="513.5" r="8.8"/></g><g id="n15-14"><circle cx="551.7" r="8.8"/></g><g id="n15-15"><circle cx="589.9" r="8.8"/></g><g id="n15-16"><circle cx="628" r="8.8"/></g><g id="n15-17"><circle cx="666.2" r="8.8"/></g><g id="n15-18"><circle cx="704.4" r="8.8"/></g><g id="n15-19"><circle cx="742.5" r="8.8"/></g><g id="n15-20"><circle cx="780.7" r="8.8"/></g><g id="n15-21"><circle cx="818.9" r="8.8"/></g><g id="n15-22"><circle cx="857" r="8.8"/></g><g id="n15-23"><circle cx="895.2" r="8.8"/></g><g id="n15-24"><circle cx="933.4" r="8.8"/></g><g id="n15-25"><circle cx="971.6" r="8.8"/></g></g>
<g id="row16" transform="translate(0,1015.6)"><g id="n16-0"><circle cx="17.3" r="8.8"/></g><g id="n16-1"><circle cx="55.5" r="8.8"/></g><g id="n16-2"><circle cx="93.6" r="8.8"/></g><g id="n16-3"><circle cx="131.8" r="8.8"/></g><g id="n16-4"><circle cx="170" r="8.8"/></g><g id="n16-5"><circle cx="208.2" r="8.8"/></g><g id="n16-6"><circle cx="246.3" r="8.8"/></g><g id="n16-7"><circle cx="284.5" r="8.8"/></g><g id="n16-8"><circle cx="322.7" r="8.8"/></g><g id="n16-9"><circle cx="360.8" r="8.8"/></g><g id="n16-10"><circle cx="399" r="8.8"/></g><g id="n16-11"><circle cx="437.2" r="8.8"/></g><g id="n16-12"><circle cx="475.3" r="8.8"/></g><g id="n16-13"><circle cx="513.5" r="8.8"/></g><g id="n16-14"><circle cx="551.7" r="8.8"/></g><g id="n16-15"><circle cx="589.9" r="8.8"/></g><g id="n16-16"><circle cx="628" r="8.8"/></g><g id="n16-17"><circle cx="666.2" r="8.8"/></g><g id="n16-18"><circle cx="704.4" r="8.8"/></g><g id="n16-19"><circle cx="742.5" r="8.8"/></g><g id="n16-20"><circle cx="780.7" r="8.8"/></g><g id="n16-21"><circle cx="818.9" r="8.8"/></g><g id="n16-22"><circle cx="857" r="8.8"/></g><g id="n16-23"><circle cx="895.2" r="8.8"/></g><g id="n16-24"><circle cx="933.4" r="8.8"/></g><g id="n16-25"><circle cx="971.6" r="8.8"/></g></g>
<g id="row17" transform="translate(0,1053.7)"><g id="n17-0"><circle cx="17.3" r="8.8"/></g><g id="n17-1"><circle cx="55.5" r="8.8"/></g><g id="n17-2"><circle cx="93.6" r="8.8"/></g><g id="n17-3"><circle cx="131.8" r="8.8"/></g><g id="n17-4"><circle cx="170" r="8.8"/></g><g id="n17-5"><circle cx="208.2" r="8.8"/></g><g id="n17-6"><circle cx="246.3" r="8.8"/></g><g id="n17-7"><circle cx="284.5" r="8.8"/></g><g id="n17-8"><circle cx="322.7" r="8.8"/></g><g id="n17-9"><circle cx="360.8" r="8.8"/></g><g id="n17-10"><circle cx="399" r="8.8"/></g><g id="n17-11"><circle cx="437.2" r="8.8"/></g><g id="n17-12"><circle cx="475.3" r="8.8"/></g><g id="n17-13"><circle cx="513.5" r="8.8"/></g><g id="n17-14"><circle cx="551.7" r="8.8"/></g><g id="n17-15"><circle cx="589.9" r="8.8"/></g><g id="n17-16"><circle cx="628" r="8.8"/></g><g id="n17-17"><circle cx="666.2" r="8.8"/></g><g id="n17-18"><circle cx="704.4" r="8.8"/></g><g id="n17-19"><circle cx="742.5" r="8.8"/></g><g id="n17-20"><circle cx="780.7" r="8.8"/></g><g id="n17-21"><circle cx="818.9" r="8.8"/></g><g id="n17-22"><circle cx="857" r="8.8"/></g><g id="n17-23"><circle cx="895.2" r="8.8"/></g><g id="n17-24"><circle cx="933.4" r="8.8"/></g><g id="n17-25"><circle cx="971.6" r="8.8"/></g></g>
<g id="row18" transform="translate(0,1091.9)"><g id="n18-0"><circle cx="17.3" r="8.8"/></g><g id="n18-1"><circle cx="55.5" r="8.8"/></g><g id="n18-2"><circle cx="93.6" r="8.8"/></g><g id="n18-3"><circle cx="131.8" r="8.8"/></g><g id="n18-4"><circle cx="170" r="8.8"/></g><g id="n18-5"><circle cx="208.2" r="8.8"/></g><g id="n18-6"><circle cx="246.3" r="8.8"/></g><g id="n18-7"><circle cx="284.5" r="8.8"/></g><g id="n18-8"><circle cx="322.7" r="8.8"/></g><g id="n18-9"><circle cx="360.8" r="8.8"/></g><g id="n18-10"><circle cx="399" r="8.8"/></g><g id="n18-11"><circle cx="437.2" r="8.8"/></g><g id="n18-12"><circle cx="475.3" r="8.8"/></g><g id="n18-13"><circle cx="513.5" r="8.8"/></g><g id="n18-14"><circle cx="551.7" r="8.8"/></g><g id="n18-15"><circle cx="589.9" r="8.8"/></g><g id="n18-16"><circle cx="628" r="8.8"/></g><g id="n18-17"><circle cx="666.2" r="8.8"/></g><g id="n18-18"><circle cx="704.4" r="8.8"/></g><g id="n18-19"><circle cx="742.5" r="8.8"/></g><g id="n18-20"><circle cx="780.7" r="8.8"/></g><g id="n18-21"><circle cx="818.9" r="8.8"/></g><g id="n18-22"><circle cx="857" r="8.8"/></g><g id="n18-23"><circle cx="895.2" r="8.8"/></g><g id="n18-24"><circle cx="933.4" r="8.8"/></g><g id="n18-25"><circle cx="971.6" r="8.8"/></g></g>
<g id="row19" transform="translate(0,1130)"><g id="n19-0"><circle cx="17.3" r="8.8"/></g><g id="n19-1"><circle cx="55.5" r="8.8"/></g><g id="n19-2"><circle cx="93.6" r="8.8"/></g><g id="n19-3"><circle cx="131.8" r="8.8"/></g><g id="n19-4"><circle cx="170" r="8.8"/></g><g id="n19-5"><circle cx="208.2" r="8.8"/></g><g id="n19-6"><circle cx="246.3" r="8.8"/></g><g id="n19-7"><circle cx="284.5" r="8.8"/></g><g id="n19-8"><circle cx="322.7" r="8.8"/></g><g id="n19-9"><circle cx="360.8" r="8.8"/></g><g id="n19-10"><circle cx="399" r="8.8"/></g><g id="n19-11"><circle cx="437.2" r="8.8"/></g><g id="n19-12"><circle cx="475.3" r="8.8"/></g><g id="n19-13"><circle cx="513.5" r="8.8"/></g><g id="n19-14"><circle cx="551.7" r="8.8"/></g><g id="n19-15"><circle cx="589.9" r="8.8"/></g><g id="n19-16"><circle cx="628" r="8.8"/></g><g id="n19-17"><circle cx="666.2" r="8.8"/></g><g id="n19-18"><circle cx="704.4" r="8.8"/></g><g id="n19-19"><circle cx="742.5" r="8.8"/></g><g id="n19-20"><circle cx="780.7" r="8.8"/></g><g id="n19-21"><circle cx="818.9" r="8.8"/></g></g>
</g>
</svg>
